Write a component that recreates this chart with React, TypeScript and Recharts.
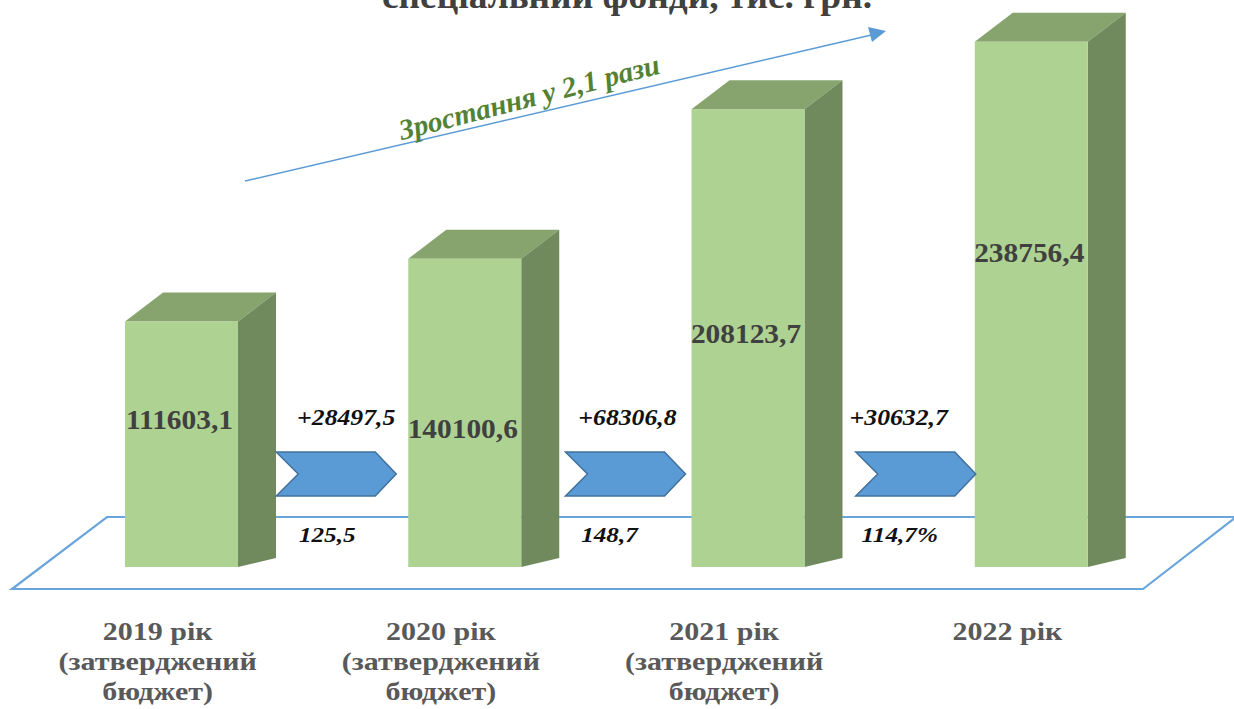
import { BarChart, Bar, XAxis, YAxis, LabelList } from "recharts";

// категорії та значення (тис. грн)
const categories = [
  "2019 рік (затверджений бюджет)",
  "2020 рік (затверджений бюджет)",
  "2021 рік (затверджений бюджет)",
  "2022 рік",
];
const values = [111603.1, 140100.6, 208123.7, 238756.4];
const increments = [null, 28497.5, 68306.8, 30632.7];
const growthLabels = [null, "125,5", "148,7", "114,7%"];
const growthNote = "Зростання у 2,1 рази";
const titleLine = "спеціальний фонди, тис. грн.";

const data = categories.map((name, i) => ({
  name,
  value: values[i],
  diff: increments[i],
  pct: growthLabels[i],
}));

const FONT = '"Liberation Serif", "Times New Roman", serif';
const FRONT = "#AED292";
const TOP = "#87A46E";
const SIDE = "#708A5E";
const DEPTH_X = 38;
const DEPTH_Y = 29;

// де стоїть число всередині стовпця (частка висоти від верху)
const valueSpots = [0.4, 0.55, 0.49, 0.4];
// невеликі зсуви стрілок і підписів між стовпцями
const arrowShift = [0, -6, 0, 7];
const diffShift = [0, 4, 2, -10];
const pctShift = [0, -15, -16, -9];

const fmt = (v: number) => String(v).replace(".", ",");

// текст, трохи розтягнутий по горизонталі (як в оригіналі)
const Wide = ({ x, y, sx = 1.15, children, ...rest }: any) => (
  <text
    transform={`translate(${x} ${y}) scale(${sx} 1)`}
    x={0}
    y={0}
    textAnchor="middle"
    fontFamily={FONT}
    fontWeight="bold"
    {...rest}
  >
    {children}
  </text>
);

const Bar3D = (props: any) => {
  const { x, y, width: w, height: h } = props;
  if (h <= 0) return null;
  const b = y + h;
  return (
    <g>
      <polygon
        points={`${x},${y} ${x + w},${y} ${x + w + DEPTH_X},${y - DEPTH_Y} ${x + DEPTH_X},${y - DEPTH_Y}`}
        fill={TOP}
      />
      <polygon
        points={`${x + w},${y} ${x + w + DEPTH_X},${y - DEPTH_Y} ${x + w + DEPTH_X},${b - 9} ${x + w},${b}`}
        fill={SIDE}
      />
      <rect x={x} y={y} width={w} height={h} fill={FRONT} />
    </g>
  );
};

const ValueLabel = (props: any) => {
  const { x, y, width, height, value, index } = props;
  const cy = y + height * valueSpots[index];
  return (
    <Wide x={x + width / 2 - 2} y={cy} sx={1.05} dominantBaseline="central" fontSize={28} fill="#404040">
      {fmt(value)}
    </Wide>
  );
};

// стрілка між стовпцями + приріст і відсоток
const StepLabel = (props: any) => {
  const { x, y, height, value, index } = props;
  if (value == null) return null;
  const b = y + height;
  const mid = x - 66;
  const cx = mid + arrowShift[index];
  const l = cx - 60;
  const r = cx + 60;
  const t = b - 115;
  const bt = b - 71;
  const m = (t + bt) / 2;
  return (
    <g>
      <polygon
        points={`${l},${t} ${r - 21},${t} ${r},${m} ${r - 21},${bt} ${l},${bt} ${l + 22},${m}`}
        fill="#5B9BD5"
        stroke="#41719C"
        strokeWidth={1.5}
      />
      <Wide x={mid + diffShift[index]} y={b - 150} sx={1.12} dominantBaseline="central" fontStyle="italic" fontSize={23} fill="#111">
        {"+" + fmt(value)}
      </Wide>
      <Wide x={mid + pctShift[index]} y={b - 32} sx={1.2} dominantBaseline="central" fontStyle="italic" fontSize={21} fill="#111">
        {data[index].pct}
      </Wide>
    </g>
  );
};

const CategoryTick = (props: any) => {
  const { x, y, payload } = props;
  const s: string = payload.value;
  const k = s.indexOf(" (");
  const lines = k < 0 ? [s] : [s.slice(0, k), ...s.slice(k + 1).split(" ")];
  return (
    <g>
      {lines.map((ln, i) => (
        <Wide key={i} x={x - 24} y={y + 73 + i * 30} sx={1.2} fontSize={25} fill="#595959">
          {ln}
        </Wide>
      ))}
    </g>
  );
};

export default function App() {
  return (
    <div style={{ position: "absolute", left: 0, top: 0, background: "#fff" }}>
      <BarChart
        width={1234}
        height={709}
        data={data}
        margin={{ top: 17, right: 61, left: 40, bottom: 112 }}
      >
        {/* підлога */}
        <polygon
          points="107,517 1236,517 1143,589 12,589"
          fill="none"
          stroke="#6AA5DC"
          strokeWidth={2.2}
        />
        <XAxis
          dataKey="name"
          height={30}
          axisLine={false}
          tickLine={false}
          tickSize={0}
          tickMargin={0}
          interval={0}
          tick={<CategoryTick />}
        />
        <YAxis hide domain={[0, 250000]} />
        <Bar dataKey="value" barSize={113} shape={<Bar3D />} isAnimationActive={false}>
          <LabelList dataKey="value" content={<ValueLabel />} />
          <LabelList dataKey="diff" content={<StepLabel />} />
        </Bar>
        <g>
          <Wide x={627} y={8} sx={1.07} fontSize={35} fill="#404040">
            {titleLine}
          </Wide>
          <line x1={245} y1={181} x2={880} y2={33} stroke="#5B9BD5" strokeWidth={1.5} />
          <path d="M868,27 L886,31 L872,42 z" fill="#5B9BD5" />
          <text
            x={529}
            y={97}
            textAnchor="middle"
            dominantBaseline="central"
            transform="rotate(-14.5 529 97)"
            fontFamily={FONT}
            fontWeight="bold"
            fontStyle="italic"
            fontSize={29}
            fill="#548235"
          >
            {growthNote}
          </text>
        </g>
      </BarChart>
    </div>
  );
}
